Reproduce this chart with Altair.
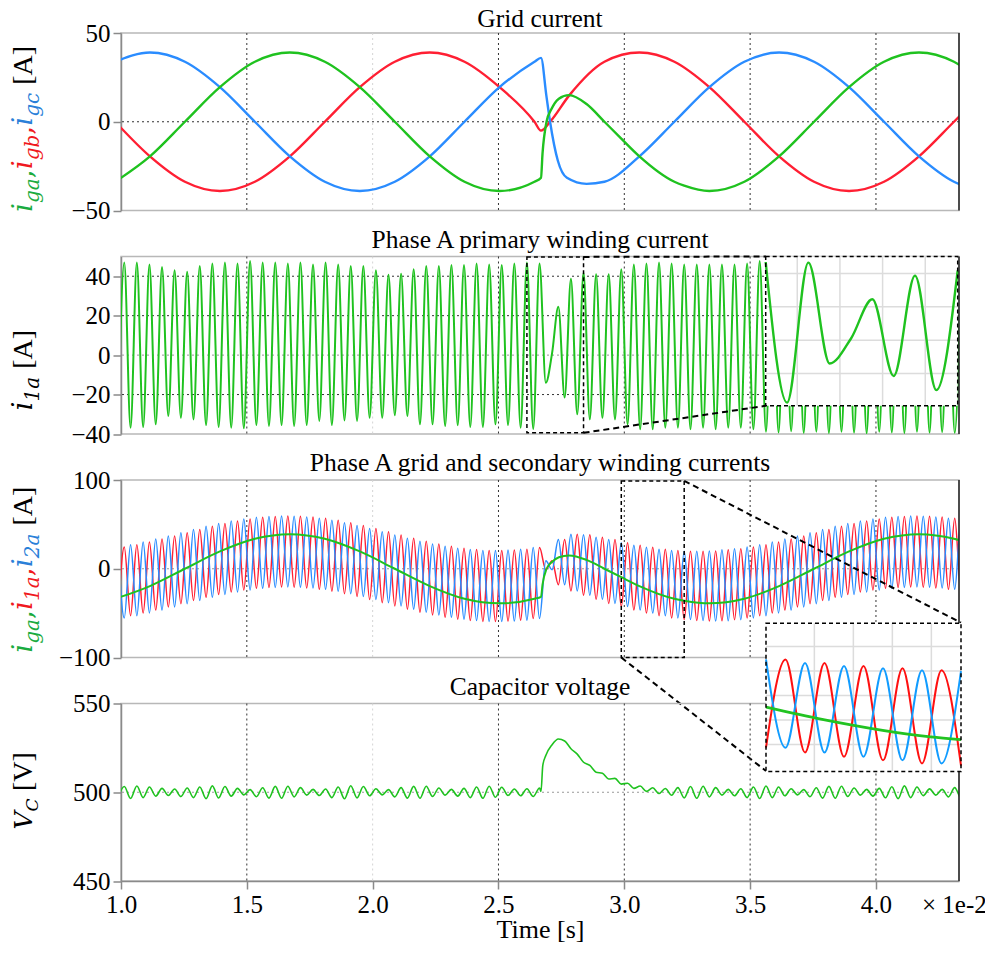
import altair as alt
import pandas as pd

# ================= DATA (time in units of 1e-2 s) =================
# Panel 1: grid currents, read every 30 deg of the 60 Hz cycle plus the fault transient
T_GRID = [0.977, 1.115, 1.254, 1.393, 1.532, 1.671, 1.810, 1.949, 2.088,
          2.227, 2.365, 2.504, 2.643, 2.782, 2.921, 3.060, 3.199, 3.338,
          3.477, 3.615, 3.754, 3.893, 4.032, 4.171, 4.310, 4.449]
IGA_PRE = [-33.8, -19.5, 0, 19.5, 33.8, 39, 33.8, 19.5, 0, -19.5, -33.8, -39, -33.8]
IGA_FAULT_T = [2.669, 2.675, 2.691, 2.710, 2.740, 2.780, 2.850]
IGA_FAULT_V = [-31.6, -18, 0, 7, 13, 15, 10]
IGA_POST = [0, -19.5, -33.8, -39, -33.8, -19.5, 0, 19.5, 33.8, 39, 33.8, 19.5]
IGA_EXTRA_T = [2.988, 3.238]
IGA_EXTRA_V = [-9.5, -36.0]
IGB_PRE = [0, -19.5, -33.8, -39, -33.8, -19.5, 0, 19.5, 33.8, 39, 33.8, 19.5, 0]
IGB_FAULT_T = [2.669, 2.705, 2.782]
IGB_FAULT_V = [-5, 0, 15]
IGB_POST = [33.8, 39, 33.8, 19.5, 0, -19.5, -33.8, -39, -33.8, -19.5, 0, 19.5]
IGC_PRE = [33.8, 39, 33.8, 19.5, 0, -19.5, -33.8, -39, -33.8, -19.5, 0, 19.5, 33.8]
IGC_FAULT_T = [2.669, 2.690, 2.705, 2.736, 2.772, 2.850]
IGC_FAULT_V = [36, 15, 0, -22, -31.6, -35]
IGC_POST = [-33.8, -19.5, 0, 19.5, 33.8, 39, 33.8, 19.5, 0, -19.5, -33.8, -39]

# Panels 2-4: extremes of the 2 kHz switching ripple, one reading every half period
T0_HF = 0.988
HALF_PERIOD = 0.025
# Panel 2: primary winding current i1a (alternating troughs / peaks)
I1A = [-36.0,
       46.9, -36.8, 46.9, -36.5, 46.0, -35.1, 44.7, -30.9, 43.0, -31.8, 42.3, -32.6,
       45.2, -35.5, 46.4, -36.5, 46.9, -36.8, 46.4, -37.1, 47.7, -35.5, 46.9, -36.0,
       46.9, -35.5, 46.4, -36.0, 46.9, -35.5, 46.0, -33.4, 46.9, -35.5, 46.0, -33.1,
       45.2, -33.4, 45.2, -31.8, 43.0, -31.8, 40.7, -30.5, 41.3, -30.9, 43.5, -35.1,
       45.2, -35.1, 45.2, -36.0, 45.7, -35.5, 45.7, -36.5, 46.4, -36.5, 46.0, -35.1,
       45.7, -35.5, 46.4, -36.8,
       46.9, -37.5, 46.5, -14.0, 1.0, 24.5, -21.5, 38.7, -30.0, 41.8, -32.6, 41.0,
       -31.8, 41.0, -32.6, 43.5, -35.1, 46.0, -37.6, 46.4, -37.6, 46.9, -36.8, 46.4,
       -36.8, 46.0, -37.6, 46.0, -36.8, 46.0, -37.6, 46.0, -36.8, 46.0, -36.8, 46.4,
       -37.6, 47.7,
       -38.8, 46.5, -39.2, 46.5, -38.6, 46.5, -39.4, 46.5, -38.8, 46.5, -39.5, 46.5,
       -38.9, 46.5, -39.3, 46.5, -39.6, 46.5, -38.9, 46.5, -39.2, 46.5, -39.5, 46.5,
       -38.8, 46.5, -39.3, 46.5, -39.0, 46.5, -39.4, 46.5]
# Panel 3: upper / lower envelope of i'1a and i'2a, one value per switching period
SEC_U = [24.6, 27.1, 30.1, 33.4, 37.0, 40.6, 44.3, 47.8, 51.0, 53.8, 56.1, 57.9,
         59.0, 59.5, 59.2, 58.3, 56.8, 54.6, 51.9, 48.8, 45.4, 41.8, 38.1, 34.5,
         31.1, 28.0, 25.3, 23.2, 21.6, 20.7, 20.5, 21.0, 22.1, 23.9,
         9.0, 33.0, 39.0, 38.2, 35.6, 32.9, 29.4, 26.5, 24.1, 22.1, 20.6, 19.8,
         19.6, 20.1, 21.3, 22.6, 24.6, 27.1, 30.1, 33.4, 37.0, 40.6, 44.3, 47.8,
         51.0, 53.8, 56.1, 57.9, 59.0, 59.5, 59.2, 58.3, 56.8, 54.6]
SEC_L = [-55.4, -52.9, -49.9, -46.6, -43.0, -39.4, -35.7, -32.2, -29.0, -26.2, -23.9, -22.1,
         -21.0, -20.5, -20.8, -21.7, -23.2, -25.4, -28.1, -31.2, -34.6, -38.2, -41.9, -45.5,
         -48.9, -52.0, -54.7, -56.8, -58.4, -59.3, -59.5, -59.0, -57.9, -56.1,
         -1.0, -18.0, -25.0, -29.8, -34.4, -39.1, -42.6, -46.5, -49.9, -52.9, -55.4, -57.2,
         -58.4, -58.9, -58.7, -57.4, -55.4, -52.9, -49.9, -46.6, -43.0, -39.4, -35.7, -32.2,
         -29.0, -26.2, -23.9, -22.1, -21.0, -20.5, -20.8, -21.7, -23.2, -25.4]
# Panel 4: capacitor voltage
VC_NOMINAL = 500
VC_AMP = [3.2, 3.5, 3.0, 2.2, 1.8, 2.4, 3.0, 3.6, 3.2, 2.2, 1.5, 2.5, 3.3, 3.4, 2.6, 1.6,
          1.8, 3.0, 3.7, 3.2, 2.0, 1.5, 2.6, 3.3, 3.4, 2.4, 1.6, 2.2, 3.0, 3.4, 2.8, 1.8,
          2.0, 2.4, 2.0, 2.0, 2.0, 2.0, 2.0, 2.0, 2.0, 2.0, 2.0, 2.0, 2.6, 3.2, 3.4, 2.6,
          1.6, 2.0, 3.0, 3.5, 3.0, 2.0, 1.5, 2.5, 3.3, 3.4, 2.4, 1.6, 2.2, 3.1, 3.6, 3.0,
          1.9, 1.6, 2.6, 3.2]
VC_STEP_T = [2.669, 2.676]
VC_STEP_V = [500.4, 515.0]
VC_TRANS_FIRST = 67
VC_TRANS = [521, 526.5, 530.3, 528.5, 525, 521, 517.5, 514.5, 512, 510, 508.3, 507,
            505.5, 504.2, 503.2, 502.4, 501.7, 501.2, 500.8, 500.4, 500.2]
VC_TRANS_RIPPLE = [0.3, 0.3, 0.3, 0.4, 0.5, 0.5, 0.6, 0.6, 0.7, 0.7, 0.8, 0.8, 0.9,
                   0.9, 1.0, 1.1, 1.2, 1.3, 1.5, 1.7, 1.9]

X_TICKS = [1.0, 1.5, 2.0, 2.5, 3.0, 3.5, 4.0]
TITLES = ["Grid current", "Phase A primary winding current",
          "Phase A grid and secondary winding currents", "Capacitor voltage"]

# ================= LAYOUT / STYLE =================
W = 838
H = 177.5
GAP = 45.5
X_DOMAIN = [1.0, 4.33]
SERIF = "Liberation Serif"
MATH = "DejaVu Serif"
GREEN, RED, BLUE = "#1fc21f", "#ff1f33", "#2a8cff"
LG, LR, LB = "#1aab40", "#f01820", "#2a80d8"
AX_GRAY = "#8a8a8a"

# zoom windows (source, in data units) and where they are drawn (pixels in host plot)
WIN2 = dict(t0=2.613, t1=2.838, v0=-39.4, v1=50.2)
DST2 = dict(x0=644.7, x1=836.7, y0=0.0, y1=149.3)
GRID2 = dict(gx=[2.65, 2.70, 2.75, 2.80], gy=[-20, 0, 20, 40])
WIN3 = dict(t0=2.988, t1=3.238, v0=-62.0, v1=58.9)
SRC3_V = [-100, 99]
DST3_P3 = dict(x0=645.0, x1=840.0, y0=142.7, y1=291.0)       # relative to panel 3 plot
DST3_P4 = dict(x0=645.0, x1=840.0, y0=142.7 - H - GAP, y1=291.0 - H - GAP)  # relative to panel 4
GRID3 = dict(gx=[3.05, 3.10, 3.15, 3.20], gy=[-40, -20, 0, 20, 40])

ONE = pd.DataFrame({"a": [0]})


def px_to_t(px):
    return X_DOMAIN[0] + px / W * (X_DOMAIN[1] - X_DOMAIN[0])


def px_to_v(py, dom):
    return dom[1] - py / H * (dom[1] - dom[0])


def hf_times(n):
    return [round(T0_HF + HALF_PERIOD * k, 4) for k in range(n)]


# ================= BUILD SERIES =================
def frame(ts, vs):
    return pd.DataFrame({"t": ts, "v": vs}).sort_values("t").reset_index(drop=True)


ga = frame(T_GRID[:13] + IGA_FAULT_T + T_GRID[14:] + IGA_EXTRA_T,
           IGA_PRE + IGA_FAULT_V + IGA_POST + IGA_EXTRA_V)
gb = frame(T_GRID[:13] + IGB_FAULT_T + T_GRID[14:], IGB_PRE + IGB_FAULT_V + IGB_POST)
gc = frame(T_GRID[:13] + IGC_FAULT_T + T_GRID[14:], IGC_PRE + IGC_FAULT_V + IGC_POST)

i1a = frame(hf_times(len(I1A)), I1A)

t_sec = hf_times(2 * len(SEC_U))
red_v, blue_v = [], []
for i in range(len(SEC_U)):
    red_v += [SEC_L[i], SEC_U[i]]
    blue_v += [SEC_U[i], SEC_L[i]]
s1 = frame(t_sec, red_v)
s2 = frame(t_sec, blue_v)

vc_t, vc_v = list(VC_STEP_T), list(VC_STEP_V)
for n, t in enumerate(hf_times(2 * len(VC_AMP))):
    j = n - 1
    sign = 1 if j % 2 == 0 else -1
    k = j - VC_TRANS_FIRST
    if 0 <= k < len(VC_TRANS):
        level, amp = VC_TRANS[k], VC_TRANS_RIPPLE[k]
    else:
        level, amp = VC_NOMINAL, VC_AMP[n // 2]
    vc_t.append(t)
    vc_v.append(level + sign * amp)
vc = frame(vc_t, vc_v)


# ================= HELPERS =================
XAXIS = alt.Axis(values=X_TICKS, format=".1f", title="Time [s]", titleFont=SERIF,
                 titleFontSize=26, titleFontWeight="normal", titleColor="black",
                 titleY=56, titleBaseline="alphabetic", labelFont=SERIF, labelFontSize=25,
                 labelColor="black", labelPadding=3, tickSize=8, tickColor=AX_GRAY,
                 tickWidth=1.5, domainColor=AX_GRAY, domainWidth=1.5, grid=False,
                 labelFlush=False)


def X(xa):
    return alt.X("t:Q", scale=alt.Scale(domain=X_DOMAIN, nice=False, zero=False), axis=xa)


def yaxis(vals):
    return alt.Axis(values=vals, title=None, grid=False, tickSize=8, tickColor=AX_GRAY,
                    tickWidth=1.5, domainColor=AX_GRAY, domainWidth=1.5, labelFont=SERIF,
                    labelFontSize=25, labelColor="black", labelPadding=3, labelFlush=False)


def Y(dom, vals):
    return alt.Y("v:Q", scale=alt.Scale(domain=dom, nice=False, zero=False), axis=yaxis(vals))


CW = {"i": 0.32, "g": 0.64, "a": 0.60, "b": 0.64, "c": 0.56, "V": 0.72, "C": 0.73,
      ",": 0.32, "1": 0.64, "2": 0.64, "[": 0.333, "]": 0.333, "A": 0.722}
BASE_X = -89


def label_layers(pieces, start):
    out = []
    y = start
    for p in pieces:
        txt, color, font, style, size, shift = p[:6]
        adv = p[6] if len(p) > 6 else sum(CW.get(c, 0.5) for c in txt) * size
        if txt:
            out.append(alt.Chart(ONE).mark_text(
                text=txt, angle=270, align="left", baseline="alphabetic", font=font,
                fontStyle=style, fontSize=size, color=color
            ).encode(x=alt.value(BASE_X + shift), y=alt.value(y)))
        y -= adv
    return out


def M(t, c):
    return (t, c, MATH, "italic", 28, 0)


def S(t, c):
    return (t, c, MATH, "italic", 20, 7)


def UNIT(t):
    return (t, "black", SERIF, "normal", 28, 0)


SPACE = ("", "black", SERIF, "normal", 28, 0, 8)


def title_layer(text, dy=-9):
    return alt.Chart(ONE).mark_text(text=text, align="center", baseline="alphabetic",
                                    font=SERIF, fontSize=25.5, color="black").encode(
        x=alt.value(W / 2), y=alt.value(dy))


class Panel:
    def __init__(self, ydom, yvals, xa=None):
        self.ydom, self.yvals, self.xa = ydom, yvals, xa

    def enc(self, **extra):
        return dict(x=X(self.xa), y=Y(self.ydom, self.yvals), **extra)

    def grid(self, hvals, hcolor):
        ls = [alt.Chart(pd.DataFrame({"t": [1.5, 2.5, 3.0, 3.5, 4.0]})).mark_rule(
                  color="#333", strokeDash=[2, 3], strokeWidth=1).encode(x=X(self.xa)),
              alt.Chart(pd.DataFrame({"t": [2.0]})).mark_rule(
                  color="#d4d4d4", strokeDash=[2, 3], strokeWidth=1).encode(x=X(self.xa))]
        for hv, hc in zip(hvals, hcolor):
            ls.append(alt.Chart(pd.DataFrame({"v": [hv]})).mark_rule(
                color=hc, strokeDash=[2, 3], strokeWidth=1).encode(
                y=Y(self.ydom, self.yvals)))
        return ls

    def line(self, df, color, width=2.0, clip=True):
        return alt.Chart(df).mark_line(interpolate="monotone", clip=clip, color=color,
                                       strokeWidth=width).encode(**self.enc())

    def rect(self, t, t2, v, v2, **kw):
        df = pd.DataFrame({"t": [t], "t2": [t2], "v": [v], "v2": [v2]})
        return alt.Chart(df).mark_rect(clip=False, **kw).encode(
            **self.enc(x2="t2:Q", y2="v2:Q"))

    def connector(self, t, v, t2, v2):
        df = pd.DataFrame({"t": [t], "v": [v], "t2": [t2], "v2": [v2]})
        return alt.Chart(df).mark_rule(color="black", strokeDash=[6, 4], strokeWidth=2,
                                       clip=False).encode(**self.enc(x2="t2:Q", y2="v2:Q"))

    def inset(self, win, dst, grid, series):
        """Zoomed copy of a window of the data, mapped into a box of this plot."""
        hx0, hx1 = px_to_t(dst["x0"]), px_to_t(dst["x1"])
        hy0, hy1 = px_to_v(dst["y1"], self.ydom), px_to_v(dst["y0"], self.ydom)

        def mx(t):
            return hx0 + (t - win["t0"]) / (win["t1"] - win["t0"]) * (hx1 - hx0)

        def my(v):
            return hy0 + (v - win["v0"]) / (win["v1"] - win["v0"]) * (hy1 - hy0)

        ls = [self.rect(hx0, hx1, hy0, hy1, fill="white", strokeOpacity=0)]
        gdx = pd.DataFrame({"t": [mx(g) for g in grid["gx"]], "v": hy0, "v2": hy1})
        ls.append(alt.Chart(gdx).mark_rule(color="#dcdcdc", strokeWidth=1.5, clip=False)
                  .encode(**self.enc(y2="v2:Q")))
        gdy = pd.DataFrame({"v": [my(g) for g in grid["gy"]], "t": hx0, "t2": hx1})
        ls.append(alt.Chart(gdy).mark_rule(color="#dcdcdc", strokeWidth=1.5, clip=False)
                  .encode(**self.enc(x2="t2:Q")))
        for df, color, width in series:
            sub = df[(df.t >= win["t0"] - 1e-6) & (df.t <= win["t1"] + 1e-6)]
            sub = pd.DataFrame({"t": sub.t.map(mx), "v": sub.v.map(my)})
            ls.append(self.line(sub, color, width, clip=False))
        ls.append(self.rect(hx0, hx1, hy0, hy1, fill="white", fillOpacity=0,
                            stroke="black", strokeDash=[4, 3], strokeWidth=1.5))
        return ls


def right_border():
    return alt.Chart(ONE).mark_rule(color="#222", strokeWidth=1.5).encode(
        x=alt.value(W), y=alt.value(0), y2=alt.value(H))


# ================= PANEL 1 =================
P1 = Panel([-50, 50], [-50, 0, 50])
p1 = alt.layer(
    *P1.grid([0], ["#333"]),
    P1.line(gb, RED, 2.4), P1.line(gc, BLUE, 2.4), P1.line(ga, GREEN, 2.4),
    right_border(), title_layer(TITLES[0], dy=-6.5),
    *label_layers([M("i", LG), S("ga", LG), (",", LG, MATH, "normal", 28, 0),
                   M("i", LR), S("gb", LR), (",", LR, MATH, "normal", 28, 0),
                   M("i", LB), S("gc", LB), SPACE, UNIT("[A]")], 179),
).properties(width=W, height=H)

# ================= PANEL 2 =================
P2 = Panel([-40, 50], [-40, -20, 0, 20, 40])
d2x0 = px_to_t(DST2["x0"])
p2 = alt.layer(
    *P2.grid([-20, 0, 20, 40], ["#333", "#999", "#333", "#333"]),
    P2.line(i1a, GREEN, 2.0),
    P2.rect(WIN2["t0"], WIN2["t1"], WIN2["v0"], 49.8, fill="white", fillOpacity=0,
            stroke="black", strokeDash=[4, 3], strokeWidth=1.5),
    P2.connector(WIN2["t1"], 49.8, d2x0, px_to_v(DST2["y0"], P2.ydom)),
    P2.connector(WIN2["t1"], WIN2["v0"], d2x0, px_to_v(DST2["y1"], P2.ydom)),
    *P2.inset(WIN2, DST2, GRID2, [(i1a, GREEN, 2.4)]),
    right_border(), title_layer(TITLES[1]),
    *label_layers([M("i", "black"), S("1a", "black"), SPACE, UNIT("[A]")], 154),
).properties(width=W, height=H)

# ================= PANEL 3 =================
P3 = Panel([-100, 100], [-100, 0, 100])
p3 = alt.layer(
    *P3.grid([0], ["#999"]),
    P3.line(s1, RED, 1.5), P3.line(s2, BLUE, 1.5), P3.line(ga, GREEN, 2.0),
    P3.rect(WIN3["t0"], WIN3["t1"], SRC3_V[0], SRC3_V[1], fill="white", fillOpacity=0,
            stroke="black", strokeDash=[4, 3], strokeWidth=1.5),
    P3.connector(WIN3["t1"], SRC3_V[1], px_to_t(DST3_P3["x1"]), px_to_v(DST3_P3["y0"], P3.ydom)),
    P3.connector(WIN3["t0"], SRC3_V[0], px_to_t(DST3_P3["x0"]), px_to_v(DST3_P3["y1"], P3.ydom)),
    right_border(), title_layer(TITLES[2]),
    *label_layers([M("i", LG), S("ga", LG), (",", LG, MATH, "normal", 28, 0),
                   M("i", LR), ("\u2032", LR, MATH, "normal", 22, -13, 0), S("1a", LR),
                   (",", LR, MATH, "normal", 28, 0),
                   M("i", LB), ("\u2032", LB, MATH, "normal", 22, -13, 0), S("2a", LB),
                   SPACE, UNIT("[A]")], 172.7),
).properties(width=W, height=H)

# ================= PANEL 4 =================
P4 = Panel([450, 550], [450, 500, 550], xa=XAXIS)
p4 = alt.layer(
    *P4.grid([500], ["#999"]),
    P4.line(vc, GREEN, 1.6),
    right_border(), title_layer(TITLES[3]),
    alt.Chart(ONE).mark_text(text="\u00d7 1e-2", align="left", baseline="alphabetic",
                             font=SERIF, fontSize=25, color="black").encode(
        x=alt.value(801), y=alt.value(H + 32)),
    *label_layers([("V", "black", MATH, "italic", 25, 0),
                   ("C", "black", MATH, "italic", 17, 6), SPACE, UNIT("[V]")], 126),
    *P4.inset(WIN3, DST3_P4, GRID3,
              [(s1, "#ff1010", 2.0), (s2, "#119cff", 2.0), (ga, "#22c322", 2.6)]),
).properties(width=W, height=H)

chart = alt.vconcat(p1, p2, p3, p4, spacing=GAP, bounds="flush").properties(
    autosize=alt.AutoSizeParams(type="none"),
    padding={"left": 113, "top": 25, "right": 977 - 113 - W, "bottom": 940 - 25},
    background="white",
).configure_view(stroke="#b8b8b8", strokeWidth=1.5)

chart.save("out.html", embed_options={"renderer": "svg", "actions": False})
